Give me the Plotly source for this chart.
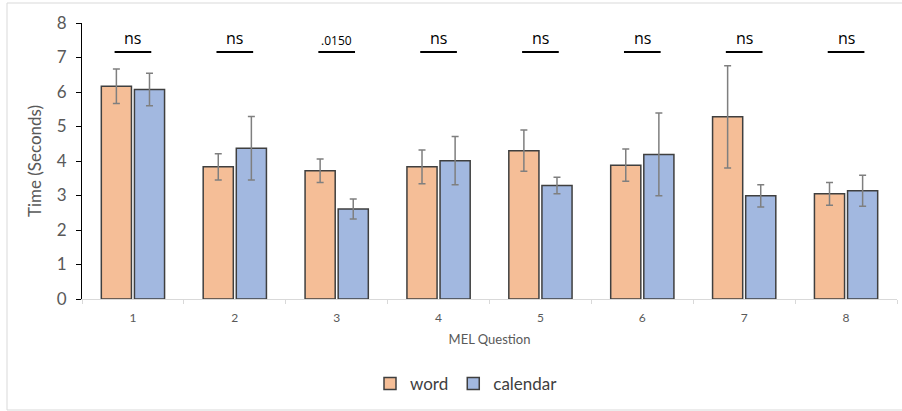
import plotly.graph_objects as go

# MEL question response times, mean ± error, per condition
questions = ["1", "2", "3", "4", "5", "6", "7", "8"]
word_mean = [6.17, 3.83, 3.72, 3.83, 4.30, 3.88, 5.28, 3.05]
word_err = [0.50, 0.38, 0.34, 0.49, 0.60, 0.47, 1.48, 0.33]
calendar_mean = [6.07, 4.37, 2.61, 4.01, 3.29, 4.19, 2.99, 3.14]
calendar_err = [0.47, 0.92, 0.29, 0.70, 0.24, 1.20, 0.32, 0.45]
sig_labels = ["ns", "ns", ".0150", "ns", "ns", "ns", "ns", "ns"]

FONT = "Lato, 'Open Sans', sans-serif"
WIDTH, HEIGHT = 902, 411
ML, MR, MT, MB = 82, 5, 23, 112

fig = go.Figure()
fig.add_trace(go.Bar(
    name="word", x=questions, y=word_mean,
    marker=dict(color="#F5BE97", line=dict(color="#3F3F3F", width=1.5)),
    error_y=dict(type="data", array=word_err, color="#7F7F7F", thickness=1.5, width=3.5),
))
fig.add_trace(go.Bar(
    name="calendar", x=questions, y=calendar_mean,
    marker=dict(color="#A2B8E0", line=dict(color="#3F3F3F", width=1.5)),
    error_y=dict(type="data", array=calendar_err, color="#7F7F7F", thickness=1.5, width=3.5),
))

# significance brackets above each pair
for i, lab in enumerate(sig_labels):
    fig.add_shape(type="line", xref="x", yref="y",
                  x0=i - 0.18, x1=i + 0.18, y0=7.16, y1=7.16,
                  line=dict(color="#000000", width=2))
    small = lab != "ns"
    fig.add_annotation(x=i, y=7.2 if small else 7.18, xref="x", yref="y",
                       text=lab, showarrow=False, yanchor="bottom",
                       font=dict(family="'Open Sans', sans-serif",
                                 size=12 if small else 16, color="#000000"))

# outer chart frame, placed in pixel terms relative to the plot area
pw = WIDTH - ML - MR
ph = HEIGHT - MT - MB
base = HEIGHT - MB  # pixel row of the x axis
fig.add_shape(type="rect", xref="paper", yref="paper",
              x0=(7 - ML) / pw, x1=(WIDTH + 2 - ML) / pw,
              y0=(base - 410) / ph, y1=(base - 3) / ph,
              line=dict(color="#D9D9D9", width=1), layer="below")

fig.update_layout(
    width=WIDTH, height=HEIGHT,
    margin=dict(l=ML, r=MR, t=MT, b=MB),
    paper_bgcolor="white", plot_bgcolor="white",
    barmode="group", bargap=0.35, bargroupgap=0.09,
    font=dict(family=FONT, color="#595959"),
    showlegend=True,
    legend=dict(orientation="h", x=(370 - ML) / pw, xanchor="left",
                y=(base - 384) / ph, yanchor="middle",
                font=dict(family=FONT, size=17, color="#404040"),
                itemwidth=30, bgcolor="rgba(0,0,0,0)"),
    xaxis=dict(
        type="category", range=[-0.5, 7.5],
        showline=True, linecolor="#D9D9D9", linewidth=1,
        ticks="outside", tickson="boundaries", ticklen=4, tickcolor="#D9D9D9",
        tickfont=dict(family=FONT, size=12, color="#595959"),
        ticklabelstandoff=8,
        showgrid=False, zeroline=False,
        title=dict(text="MEL Question", font=dict(family=FONT, size=13, color="#595959"), standoff=10),
    ),
    yaxis=dict(
        range=[0, 8], dtick=1,
        showline=True, linecolor="#000000", linewidth=1,
        ticks="outside", ticklen=5, tickcolor="#000000",
        tickfont=dict(family=FONT, size=17, color="#595959"),
        ticklabelstandoff=6,
        showgrid=False, zeroline=False,
        title=dict(text="Time (Seconds)", font=dict(family=FONT, size=17, color="#595959"), standoff=10),
    ),
)

fig.write_html("out.html")
